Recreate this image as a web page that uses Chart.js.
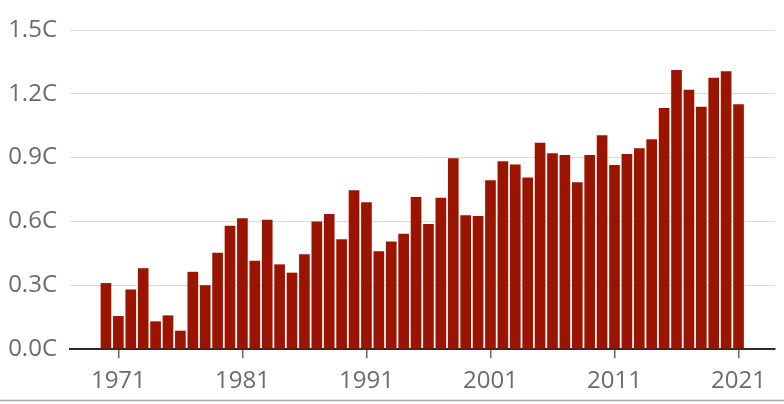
<!DOCTYPE html>
<html>
<head>
<meta charset="utf-8">
<script src="https://cdn.jsdelivr.net/npm/chart.js@4/dist/chart.umd.min.js"></script>
<style>
  html, body { margin: 0; padding: 0; background: #fff; }
  #wrap { width: 784px; height: 404px; }
</style>
</head>
<body>
<div id="wrap"><canvas id="chart" width="784" height="404"></canvas></div>
<script>
// Global temperature anomaly by year
const years = [];
for (let y = 1970; y <= 2021; y++) years.push(y);

const anomalies = [
  0.31, 0.155, 0.28, 0.38, 0.13, 0.158, 0.086, 0.363, 0.30, 0.453,
  0.58, 0.615, 0.415, 0.608, 0.398, 0.359, 0.445, 0.599, 0.635, 0.516,
  0.746, 0.69, 0.46, 0.506, 0.542, 0.715, 0.588, 0.711, 0.897, 0.629,
  0.625, 0.793, 0.883, 0.868, 0.806, 0.970, 0.920, 0.912, 0.784, 0.912,
  1.005, 0.865, 0.917, 0.944, 0.986, 1.133, 1.312, 1.219, 1.139, 1.276,
  1.306, 1.151
];

const xTickYears = [1971, 1981, 1991, 2001, 2011, 2021];
const yTickValues = [0, 0.3, 0.6, 0.9, 1.2, 1.5];

const labelFont = { family: "'Open Sans', sans-serif", size: 24 };
const labelColor = '#6b6b6b';

// thin rule along the bottom edge
const bottomRule = {
  id: 'bottomRule',
  afterDraw(chart) {
    const ctx = chart.ctx;
    ctx.save();
    ctx.strokeStyle = '#a8a8a8';
    ctx.lineWidth = 1.5;
    ctx.beginPath();
    ctx.moveTo(0, 400.5);
    ctx.lineTo(chart.width, 400.5);
    ctx.stroke();
    ctx.restore();
  }
};

new Chart(document.getElementById('chart'), {
  type: 'bar',
  data: {
    datasets: [{
      data: years.map((y, i) => ({ x: y, y: anomalies[i] })),
      backgroundColor: '#9b1400',
      borderWidth: 0,
      barPercentage: 0.86,
      categoryPercentage: 1
    }]
  },
  plugins: [bottomRule],
  options: {
    responsive: false,
    animation: false,
    layout: { padding: { left: 0, right: 9, top: 30, bottom: 0 } },
    plugins: {
      legend: { display: false },
      tooltip: { enabled: false }
    },
    scales: {
      x: {
        type: 'linear',
        min: 1967.1,
        max: 2023.94,
        offset: false,
        afterBuildTicks: axis => {
          axis.ticks = xTickYears.map(v => ({ value: v }));
        },
        afterFit: scale => { scale.height = 55; },
        ticks: {
          color: labelColor,
          font: labelFont,
          padding: 9,
          maxRotation: 0,
          autoSkip: false,
          callback: v => String(v)
        },
        grid: {
          offset: false,
          drawOnChartArea: false,
          drawTicks: true,
          tickLength: 9,
          color: '#666',
          lineWidth: 1.5
        },
        border: { display: true, color: '#2b2b2b', width: 2 }
      },
      y: {
        min: 0,
        max: 1.5,
        afterBuildTicks: axis => {
          axis.ticks = yTickValues.map(v => ({ value: v }));
        },
        afterFit: scale => { scale.width = 70; },
        ticks: {
          color: labelColor,
          font: labelFont,
          padding: 13,
          callback: v => v.toFixed(1) + 'C'
        },
        grid: {
          drawTicks: false,
          color: ctx => ctx.tick && ctx.tick.value === 0 ? 'rgba(0,0,0,0)' : '#dcdcdc',
          lineWidth: 1
        },
        border: { display: false }
      }
    }
  }
});
</script>
</body>
</html>
